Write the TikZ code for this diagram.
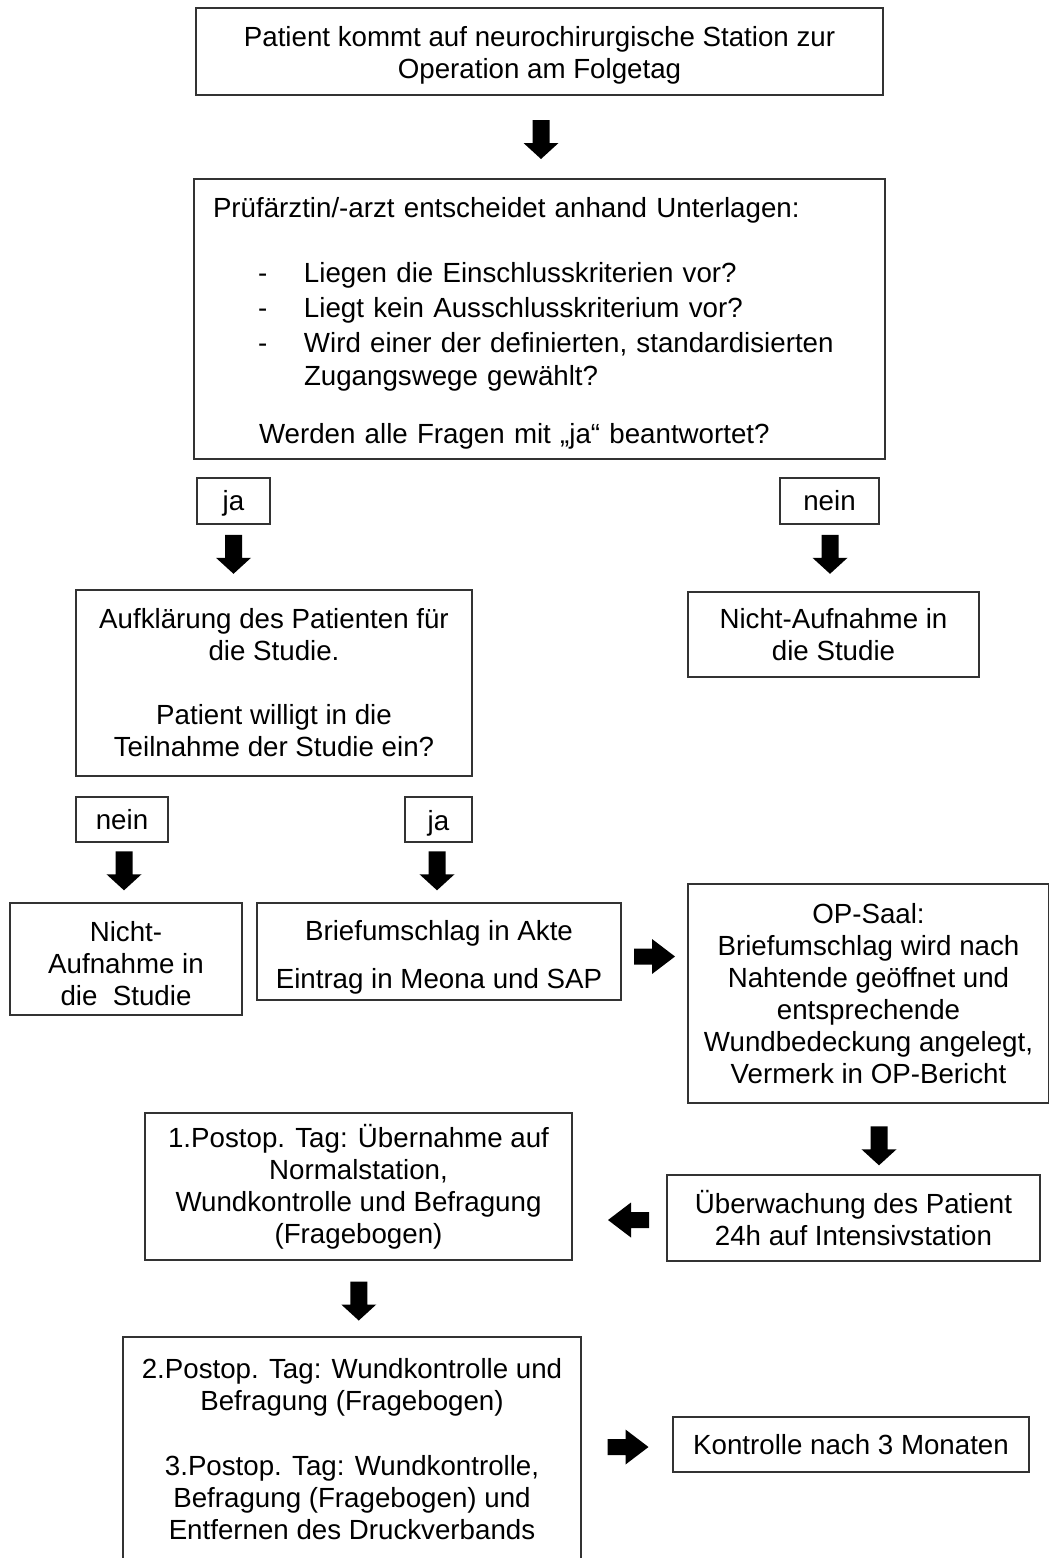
\documentclass[tikz,border=0pt]{standalone}
\usepackage{fontspec}
\setmainfont{Liberation Sans}
\usetikzlibrary{calc}
\newcommand{\upstrut}[1]{\rule{0pt}{#1}}
\tikzset{
  box/.style={draw=black!80, line width=1.6pt, fill=white, inner sep=0pt, align=center, anchor=center},
  darr/.pic={\fill[black] (-8.5,-19.5) -- (8.5,-19.5) -- (8.5,3.5) -- (17.5,3.5) -- (0,19.5) -- (-17.5,3.5) -- (-8.5,3.5) -- cycle;},
  rarr/.pic={\fill[black] (-20.5,-8) -- (-2.5,-8) -- (-2.5,-17.5) -- (20.5,0) -- (-2.5,17.5) -- (-2.5,8) -- (-20.5,8) -- cycle;},
  larr/.pic={\fill[black] (20.5,-8) -- (2.5,-8) -- (2.5,-17.5) -- (-20.5,0) -- (2.5,17.5) -- (2.5,8) -- (20.5,8) -- cycle;}
}
\begin{document}
\begin{tikzpicture}[x=1pt,y=-1pt,font=\fontsize{27.7pt}{32pt}\selectfont]
\useasboundingbox[fill=white] (0,0) rectangle (1049,1558);

\node[box, minimum width=687pt, minimum height=87pt] (top) at (539.5,51.5)
  {\upstrut{28.5pt}Patient kommt auf neurochirurgische Station zur\\Operation am Folgetag};

\node[box, minimum width=691pt, minimum height=280pt, text width=653pt, align=left] (crit) at (539.5,319)
  {\upstrut{28.5pt}Prüfärztin/-arzt entscheidet anhand Unterlagen:\\[33pt]
   \hspace*{45pt}\makebox[46pt][l]{-}Liegen die Einschlusskriterien vor?\\[3pt]
   \hspace*{45pt}\makebox[46pt][l]{-}Liegt kein Ausschlusskriterium vor?\\[3pt]
   \hspace*{45pt}\makebox[46pt][l]{-}Wird einer der definierten, standardisierten\\[1pt]
   \hspace*{91pt}Zugangswege gewählt?\\[26pt]
   \hspace*{46pt}Werden alle Fragen mit „ja“ beantwortet?};

\node[box, minimum width=73pt, minimum height=46pt] (ja1) at (233.5,501) {\upstrut{24.5pt}ja};
\node[box, minimum width=99pt, minimum height=46pt] (nein1) at (829.5,501) {nein};

\node[box, minimum width=396pt, minimum height=186pt] (aufk) at (274,683)
  {Aufklärung des Patienten für\\die Studie.\\[32pt]Patient willigt in die\\Teilnahme der Studie ein?};

\node[box, minimum width=291pt, minimum height=85pt] (nicht1) at (833.5,634.5)
  {Nicht-Aufnahme in\\die Studie};

\node[box, minimum width=92pt, minimum height=45pt] (nein2) at (122,819.5) {nein};
\node[box, minimum width=67pt, minimum height=45pt] (ja2) at (438.5,819.5) {\upstrut{28.5pt}ja};

\node[box, minimum width=232pt, minimum height=112pt] (nicht2) at (126,959)
  {\upstrut{28.5pt}Nicht-\\Aufnahme in\\die\ \ Studie};

\node[box, minimum width=364pt, minimum height=97pt] (brief) at (439,951.5)
  {\upstrut{32pt}Briefumschlag in Akte\\[16pt]Eintrag in Meona und SAP};

\node[box, minimum width=361pt, minimum height=219pt] (op) at (868.5,993.5)
  {OP-Saal:\\Briefumschlag wird nach\\Nahtende geöffnet und\\entsprechende\\Wundbedeckung angelegt,\\Vermerk in OP-Bericht};

\node[box, minimum width=373pt, minimum height=86pt] (ueber) at (853.5,1218)
  {Überwachung des Patient\\24h auf Intensivstation};

\node[box, minimum width=427pt, minimum height=147pt] (post1) at (358.5,1186.5)
  {1.Postop. Tag: Übernahme auf\\Normalstation,\\Wundkontrolle und Befragung\\(Fragebogen)};

\node[box, draw=none, minimum width=456pt, minimum height=222pt] (post2) at (352,1449)
  {2.Postop. Tag: Wundkontrolle und\\Befragung (Fragebogen)\\[33pt]3.Postop. Tag: Wundkontrolle,\\Befragung (Fragebogen) und\\Entfernen des Druckverbands};
\draw[draw=black!80, line width=1.6pt] (post2.south west) -- (post2.north west) -- (post2.north east) -- (post2.south east);

\node[box, minimum width=356pt, minimum height=55pt] (kontr) at (851,1444.5)
  {Kontrolle nach 3 Monaten};

% block arrows
\pic at ($(top.south)!0.5!(crit.north)+(1.5,2.5)$) {darr};
\pic at ($(ja1.south)+(0,29.5)$) {darr};
\pic at ($(nein1.south)+(0.5,29.5)$) {darr};
\pic at ($(nein2.south)+(2,28)$) {darr};
\pic at ($(ja2.south)+(-1.5,28)$) {darr};
\pic at ($(brief.east)!0.5!(op.west|-brief.east)+(0,5)$) {rarr};
\pic at ($(op.south)+(10.5,42)$) {darr};
\pic at ($(post1.east|-ueber.west)!0.5!(ueber.west)+(9,2)$) {larr};
\pic at ($(post1.south)!0.5!(post2.north)+(3.5,2)$) {darr};
\pic at ($(post2.north east|-kontr.west)!0.5!(kontr.west)+(1.5,2.5)$) {rarr};
\end{tikzpicture}
\end{document}
